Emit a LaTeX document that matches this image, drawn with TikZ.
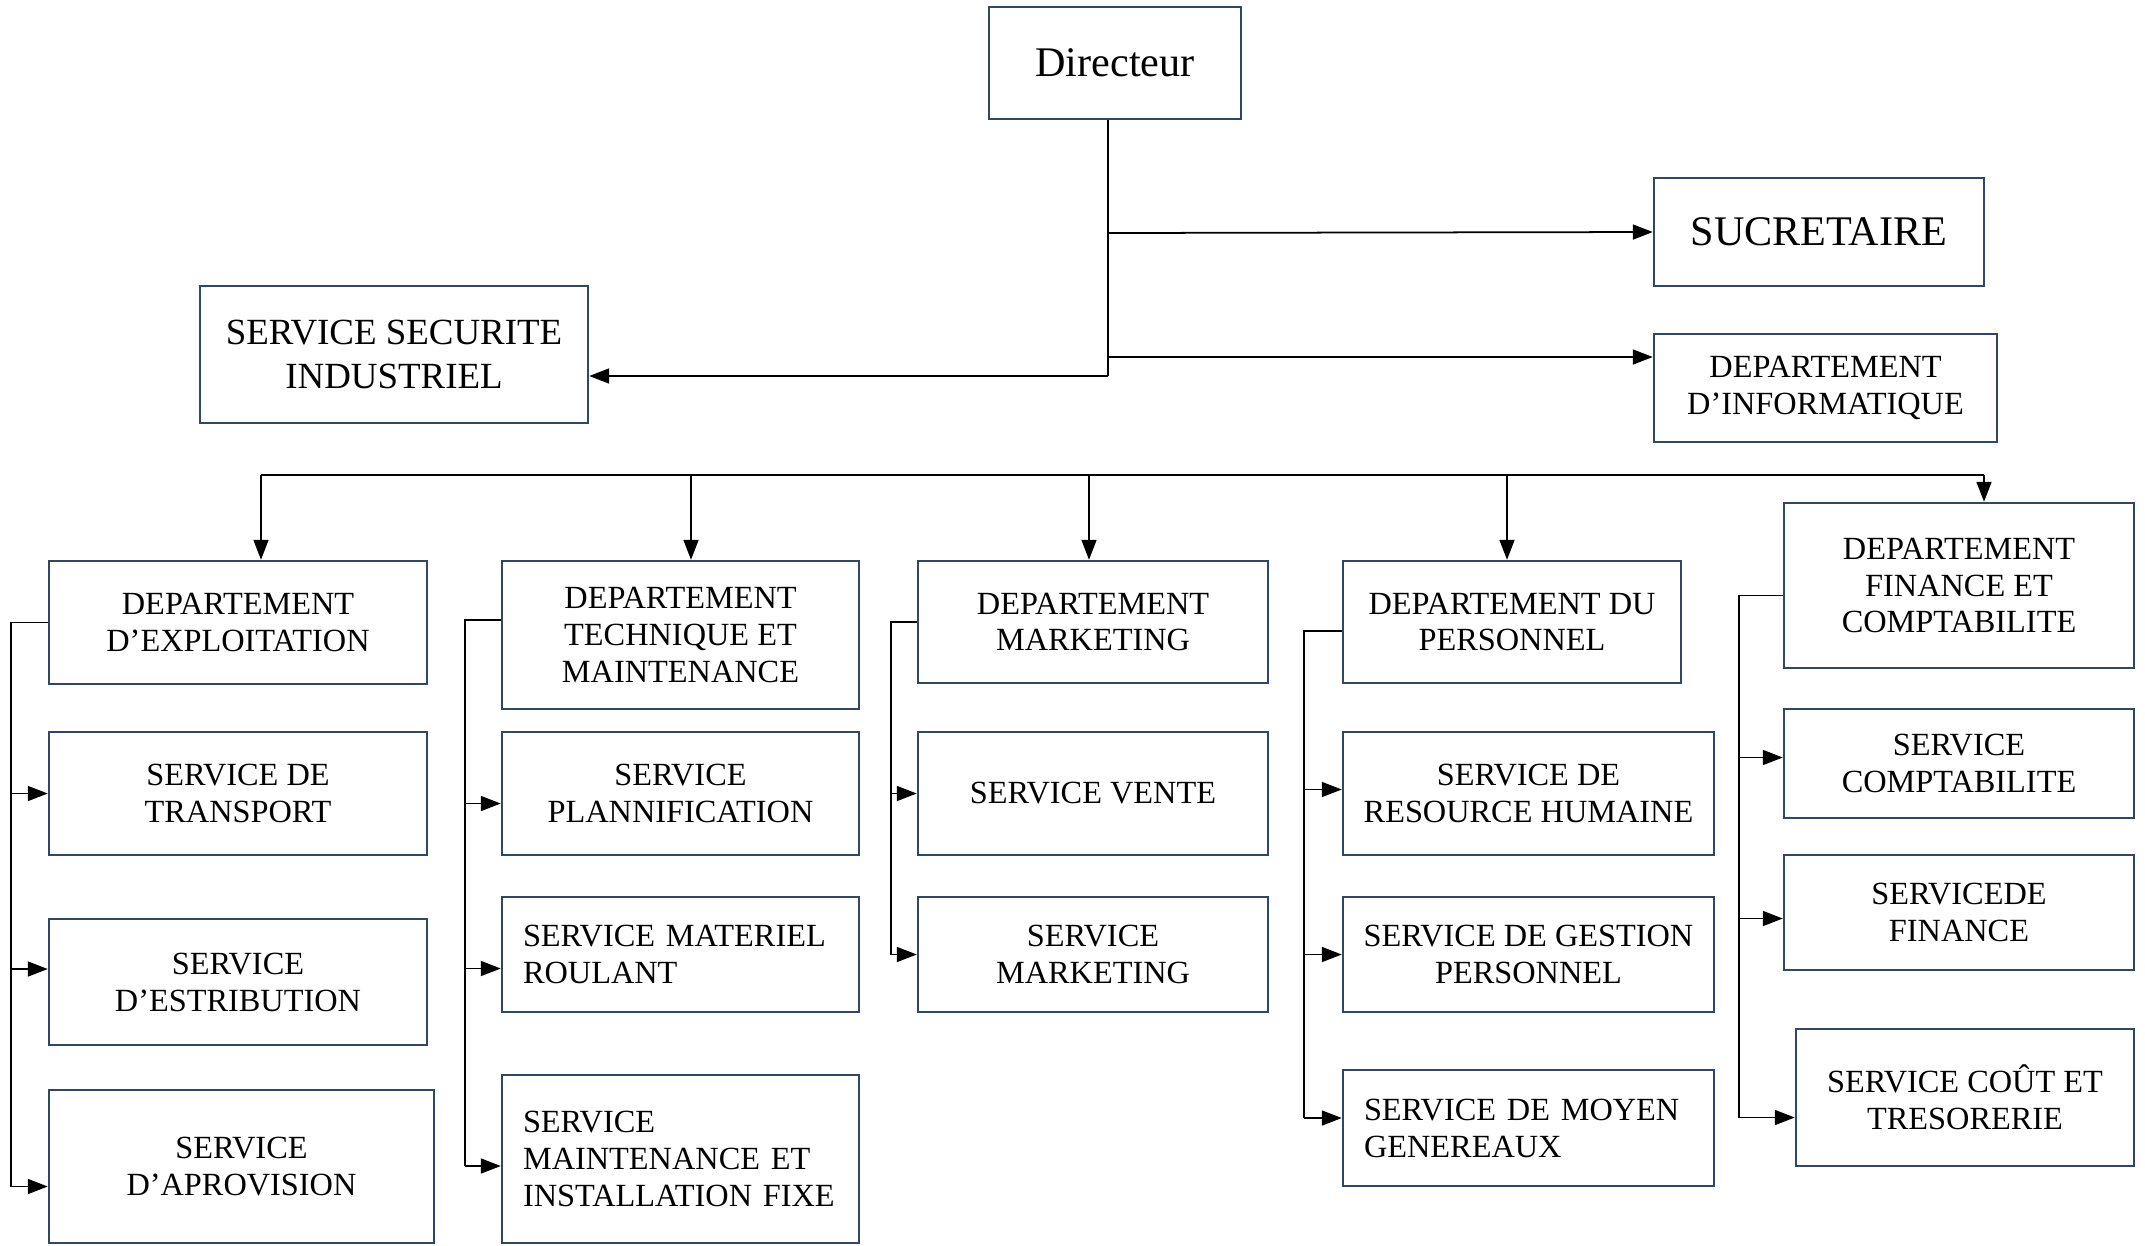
\documentclass[tikz,border=0pt]{standalone}
\usepackage{fontspec}
\setmainfont{Liberation Serif}
\usetikzlibrary{arrows.meta}
\definecolor{boxblue}{RGB}{47,72,104}

\begin{document}
\begin{tikzpicture}[x=0.1mm, y=-0.1mm,
	box/.style={draw=boxblue, line width=0.7pt, align=center, inner sep=0pt, font=\fontsize{9.2}{10.5}\selectfont},
	leftbox/.style={box, align=left, inner xsep=2.1mm},
	link/.style={line width=0.5pt},
	arr/.style={link, -{Triangle[length=2mm, width=1.5mm]}}]
	\useasboundingbox (0,0) rectangle (2145,1245);

	% top of the chart
	\node [box, minimum width=25.2mm, minimum height=11.2mm, font=\fontsize{12}{14}\selectfont] (dir) at (1115,63) {Directeur};
	\node [box, minimum width=33mm, minimum height=10.8mm, font=\fontsize{12}{14}\selectfont] (sec) at (1819,232) {SUCRETAIRE};
	\node [box, minimum width=34.3mm, minimum height=10.8mm] (info) at (1825.5,388) {DEPARTEMENT\\D’INFORMATIQUE};
	\node [box, minimum width=38.8mm, minimum height=13.7mm, font=\fontsize{10.5}{12.5}\selectfont] (ssi) at (394,354.5) {SERVICE SECURITE\\INDUSTRIEL};

	% exploitation
	\node [box, minimum width=37.8mm, minimum height=12.3mm] (dex) at (238,622.5) {DEPARTEMENT\\D’EXPLOITATION};
	\node [box, minimum width=37.8mm, minimum height=12.3mm] (stra) at (238,793.5) {SERVICE DE\\TRANSPORT};
	\node [box, minimum width=37.8mm, minimum height=12.6mm] (sest) at (238,982) {SERVICE\\D’ESTRIBUTION};
	\node [box, minimum width=38.5mm, minimum height=15.3mm] (sapr) at (241.5,1166.5) {SERVICE\\D’APROVISION};

	% technique et maintenance
	\node [box, minimum width=35.7mm, minimum height=14.8mm] (dtm) at (680.5,635) {DEPARTEMENT\\TECHNIQUE ET\\MAINTENANCE};
	\node [box, minimum width=35.7mm, minimum height=12.3mm] (spl) at (680.5,793.5) {SERVICE\\PLANNIFICATION};
	\node [leftbox, text width=31.5mm, minimum height=11.5mm] (smr) at (680.5,954.5) {SERVICE MATERIEL\\ROULANT};
	\node [leftbox, text width=31.5mm, minimum height=16.8mm] (smi) at (680.5,1159) {SERVICE\\MAINTENANCE ET\\INSTALLATION FIXE};

	% marketing
	\node [box, minimum width=35mm, minimum height=12.2mm] (dmk) at (1093,622) {DEPARTEMENT\\MARKETING};
	\node [box, minimum width=35mm, minimum height=12.3mm] (sve) at (1093,793.5) {SERVICE VENTE};
	\node [box, minimum width=35mm, minimum height=11.5mm] (smk) at (1093,954.5) {SERVICE\\MARKETING};

	% personnel
	\node [box, minimum width=33.8mm, minimum height=12.2mm] (dpe) at (1512,622) {DEPARTEMENT DU\\PERSONNEL};
	\node [box, minimum width=37.1mm, minimum height=12.3mm] (srh) at (1528.5,793.5) {SERVICE DE\\RESOURCE HUMAINE};
	\node [box, minimum width=37.1mm, minimum height=11.5mm] (sgp) at (1528.5,954.5) {SERVICE DE GESTION\\PERSONNEL};
	\node [leftbox, text width=32.9mm, minimum height=11.6mm] (smg) at (1528.5,1128) {SERVICE DE MOYEN\\GENEREAUX};

	% finance et comptabilite
	\node [box, minimum width=35mm, minimum height=16.5mm] (dfc) at (1959,585.5) {DEPARTEMENT\\FINANCE ET\\COMPTABILITE};
	\node [box, minimum width=35mm, minimum height=10.9mm] (scp) at (1959,763.5) {SERVICE\\COMPTABILITE};
	\node [box, minimum width=35mm, minimum height=11.5mm] (sfi) at (1959,912.5) {SERVICEDE\\FINANCE};
	\node [box, minimum width=33.8mm, minimum height=13.7mm] (sct) at (1965,1097.5) {SERVICE COÛT ET\\TRESORERIE};

	% trunk under the director
	\coordinate (t1) at (1108,233);
	\coordinate (t2) at (1108,357);
	\coordinate (t3) at (1108,376);
	\draw [link] (dir.south -| t1) -- (t3);
	\draw [arr] (t3) -- (ssi.east |- t3);
	\draw [arr] (t1) -- (sec.west);
	\draw [arr] (t2) -- (info.west |- t2);

	% bus over the departments
	\coordinate (b1) at (261,475);
	\coordinate (b2) at (691,475);
	\coordinate (b3) at (1089,475);
	\coordinate (b4) at (1507,475);
	\coordinate (b5) at (1984,475);
	\draw [link] (b1) -- (b5);
	\foreach \b/\n in {b1/dex, b2/dtm, b3/dmk, b4/dpe, b5/dfc}
		\draw [arr] (\b) -- (\b |- \n.north);

	% side lines to the services
	\coordinate (s1) at (11,0);
	\coordinate (e1) at ([yshift=-2mm]sapr.west);
	\draw [link] (dex.west) -| (s1 |- e1);
	\foreach \n/\dy in {stra/0, sest/1.3, sapr/-2} {
		\coordinate (e) at ([yshift=\dy mm]\n.west);
		\draw [arr] (s1 |- e) -- (e);
	}

	\coordinate (s2) at (465,0);
	\coordinate (e2) at ([yshift=-0.7mm]smi.west);
	\draw [link] ([yshift=1.5mm]dtm.west) -| (s2 |- e2);
	\foreach \n/\dy in {spl/-1, smr/-1.4, smi/-0.7} {
		\coordinate (e) at ([yshift=\dy mm]\n.west);
		\draw [arr] (s2 |- e) -- (e);
	}

	\coordinate (s3) at (891,0);
	\draw [link] (dmk.west) -| (s3 |- smk.west);
	\foreach \n in {sve, smk}
		\draw [arr] (s3 |- \n.west) -- (\n.west);

	\coordinate (s4) at (1304,0);
	\coordinate (e4) at ([yshift=1mm]smg.west);
	\draw [link] ([yshift=-0.9mm]dpe.west) -| (s4 |- e4);
	\foreach \n/\dy in {srh/0.4, sgp/0, smg/1} {
		\coordinate (e) at ([yshift=\dy mm]\n.west);
		\draw [arr] (s4 |- e) -- (e);
	}

	\coordinate (s5) at (1739,0);
	\coordinate (e5) at ([yshift=-2mm]sct.west);
	\draw [link] ([yshift=-1mm]dfc.west) -| (s5 |- e5);
	\foreach \n/\dy in {scp/0.6, sfi/-0.6, sct/-2} {
		\coordinate (e) at ([yshift=\dy mm]\n.west);
		\draw [arr] (s5 |- e) -- (e);
	}
\end{tikzpicture}
\end{document}
